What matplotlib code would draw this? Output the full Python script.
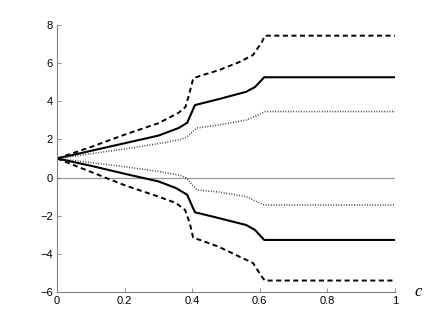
import matplotlib
matplotlib.use("Agg")
import matplotlib.pyplot as plt

# Upper dashed
ud_x = [0, 0.1, 0.2, 0.3, 0.36, 0.38, 0.39, 0.403, 0.423, 0.48, 0.54, 0.58, 0.606, 0.615, 1.0]
ud_y = [1, 1.6, 2.25, 2.85, 3.4, 3.7, 4.3, 5.2, 5.33, 5.64, 6.06, 6.43, 7.1, 7.44, 7.44]
# Upper solid
us_x = [0, 0.1, 0.2, 0.3, 0.36, 0.385, 0.408, 0.48, 0.56, 0.586, 0.613, 1.0]
us_y = [1, 1.4, 1.8, 2.2, 2.6, 2.87, 3.8, 4.12, 4.5, 4.75, 5.26, 5.26]
# Upper dotted
up_x = [0, 0.1, 0.2, 0.3, 0.364, 0.384, 0.414, 0.48, 0.56, 0.595, 0.615, 1.0]
up_y = [1, 1.25, 1.5, 1.78, 1.99, 2.13, 2.6, 2.76, 3.02, 3.28, 3.46, 3.46]
# Lower dotted
ld_x = [0, 0.1, 0.2, 0.3, 0.364, 0.384, 0.414, 0.48, 0.56, 0.59, 0.615, 1.0]
ld_y = [1, 0.79, 0.57, 0.32, 0.12, -0.04, -0.65, -0.76, -1.0, -1.26, -1.44, -1.44]
# Lower solid
ls_x = [0, 0.1, 0.2, 0.3, 0.352, 0.385, 0.408, 0.48, 0.56, 0.586, 0.613, 1.0]
ls_y = [1, 0.62, 0.2, -0.2, -0.55, -0.9, -1.82, -2.13, -2.49, -2.75, -3.27, -3.27]
# Lower dashed
ldd_x = [0, 0.1, 0.2, 0.3, 0.352, 0.379, 0.393, 0.403, 0.423, 0.48, 0.54, 0.58, 0.606, 0.615, 1.0]
ldd_y = [1, 0.3, -0.4, -1.0, -1.33, -1.7, -2.4, -3.17, -3.27, -3.64, -4.15, -4.48, -5.2, -5.4, -5.4]

xticks = [0, 0.2, 0.4, 0.6, 0.8, 1]
xticklabels = ["0", "0.2", "0.4", "0.6", "0.8", "1"]
yticks = [-6, -4, -2, 0, 2, 4, 6, 8]
yticklabels = ["\u22126", "\u22124", "\u22122", "0", "2", "4", "6", "8"]

plt.rcParams['font.family'] = ['Liberation Sans', 'DejaVu Sans']
fig = plt.figure(figsize=(4.36, 3.29), dpi=100)
ax = fig.add_axes([57/436, 37/329, 338/436, 267/329])

ax.axhline(0, color='#999999', lw=0.9, zorder=1)
dash = (0, (2.6, 1.8))
dot = (0, (0.6, 1.1))
ax.plot(ud_x, ud_y, color='black', lw=1.4, linestyle=dash)
ax.plot(us_x, us_y, color='black', lw=1.5, linestyle='-')
ax.plot(up_x, up_y, color='#333333', lw=1.1, linestyle=dot)
ax.plot(ld_x, ld_y, color='#333333', lw=1.1, linestyle=dot)
ax.plot(ls_x, ls_y, color='black', lw=1.5, linestyle='-')
ax.plot(ldd_x, ldd_y, color='black', lw=1.4, linestyle=dash)

ax.set_xlim(0, 1)
ax.set_ylim(-6, 8)
ax.set_xticks(xticks)
ax.set_xticklabels(xticklabels)
ax.set_yticks(yticks)
ax.set_yticklabels(yticklabels)
for s in ['top', 'right']:
    ax.spines[s].set_visible(False)
for s in ['left', 'bottom']:
    ax.spines[s].set_color('#808080')
    ax.spines[s].set_linewidth(0.8)
ax.tick_params(direction='in', length=3, width=0.6, color='#808080',
               labelsize=8, labelcolor='black', pad=3)
ax.text(1.07, 0.0, 'c', transform=ax.transAxes, fontsize=12,
        family=['Liberation Serif', 'DejaVu Serif'], style='italic',
        ha='center', va='center')

fig.savefig('out.png', dpi=100)
